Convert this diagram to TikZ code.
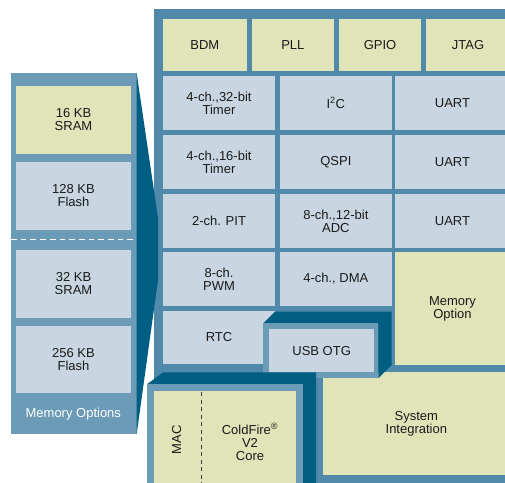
\documentclass[tikz,border=0pt]{standalone}
\usepackage{fontspec}
\setmainfont{Liberation Sans}
\definecolor{panel}{HTML}{5089A9}
\definecolor{mempanel}{HTML}{6B9BB7}
\definecolor{darkb}{HTML}{005E83}
\definecolor{lbfill}{HTML}{C9D5E1}
\definecolor{ybfill}{HTML}{E1E4B9}
\definecolor{txt}{HTML}{1A1A1A}
\begin{document}
\begin{tikzpicture}[x=1pt,y=-1pt,
  blk/.style={rectangle, inner sep=0pt, align=center, text=txt, font=\fontsize{13}{13}\selectfont},
  lbox/.style={blk, fill=lbfill},
  ybox/.style={blk, fill=ybfill},
  sz/.style 2 args={minimum width=#1pt, minimum height=#2pt}]
\useasboundingbox (0,0) rectangle (505,482);
% memory options panel
\fill[mempanel] (11,73.3) rectangle (136.7,434);
\node[ybox, sz={115}{68}] (m16) at (73.5,120) {16 KB\\SRAM};
\node[lbox, sz={115}{68.3}] (m128) at (73.5,195.85) {128 KB\\Flash};
\node[lbox, sz={115}{67.7}] (m32) at (73.5,283.85) {32 KB\\SRAM};
\node[lbox, sz={115}{67.6}] (m256) at (73.5,359.5) {256 KB\\Flash};
\draw[white, line width=1pt, dash pattern=on 5.7pt off 4pt] (11,239.3) -- (136.7,239.3);
\node[blk, text=white] (memopts) at (73.3,414) {Memory Options};
% main panel
\fill[panel] (154,9) rectangle (520,490);
\node[ybox, sz={83.7}{52}] (bdm) at (204.85,45) {BDM};
\node[ybox, sz={82.3}{52}] (pll) at (292.85,45) {PLL};
\node[ybox, sz={82}{52}] (gpio) at (380,45) {GPIO};
\node[ybox, sz={84}{52}] (jtag) at (468,45) {JTAG};
\node[lbox, sz={112}{54}] (t32) at (219,103) {4-ch.,32-bit\\Timer};
\node[lbox, sz={111.7}{54}] (i2c) at (335.85,103) {I\textsuperscript{2}C};
\node[lbox, sz={115}{54}] (uart1) at (452.5,103) {UART};
\node[lbox, sz={112}{54}] (t16) at (219,162) {4-ch.,16-bit\\Timer};
\node[lbox, sz={111.7}{54}] (qspi) at (335.85,162) {QSPI};
\node[lbox, sz={115}{54}] (uart2) at (452.5,162) {UART};
\node[lbox, sz={112}{54}] (pit) at (219,221) {2-ch. PIT};
\node[lbox, sz={111.7}{54}] (adc) at (335.85,221) {8-ch.,12-bit\\ADC};
\node[lbox, sz={115}{54}] (uart3) at (452.5,221) {UART};
\node[lbox, sz={112}{53.4}] (pwm) at (219,279) {8-ch.\\PWM};
\node[lbox, sz={111.7}{53.4}] (dma) at (335.85,279) {4-ch., DMA};
\node[ybox, sz={115}{112.7}] (memopt) at (452.5,308.65) {Memory\\Option};
\node[lbox, sz={112}{53}] (rtc) at (219,337.5) {RTC};
\node[ybox, sz={187.3}{103.3}] (sysint) at (416.35,423.35) {System\\Integration};
% wedge
\fill[darkb] (136.7,73.3) -- (158,218) -- (158,280) -- (136.7,434) -- cycle;
% USB OTG box
\fill[darkb] (263.3,323.3) -- (275,311.7) -- (391.7,311.7) -- (391.7,365) -- (378.3,378.3) -- (378.3,323.3) -- cycle;
\fill[mempanel] (263.3,323.3) rectangle (378.3,378.3);
\node[lbox, sz={104.7}{43}] (usb) at (321.65,350.8) {USB OTG};
% ColdFire box
\fill[darkb] (147.3,384) -- (163.3,372.3) -- (316,372.3) -- (316,490) -- (302.7,490) -- (302.7,384) -- cycle;
\fill[mempanel] (147.3,384) rectangle (302.7,490);
\node[ybox, sz={142}{99.3}] (cf) at (225,440.35) {};
\draw[txt!85, line width=1.2pt, dash pattern=on 4pt off 3.5pt] (201.7,392) -- (201.7,490);
\node[blk, rotate=90] (mac) at (176.7,440) {MAC};
\node[blk] (core) at (250,441.7) {ColdFire\textsuperscript{\textregistered}\\V2\\Core};
\end{tikzpicture}
\end{document}
